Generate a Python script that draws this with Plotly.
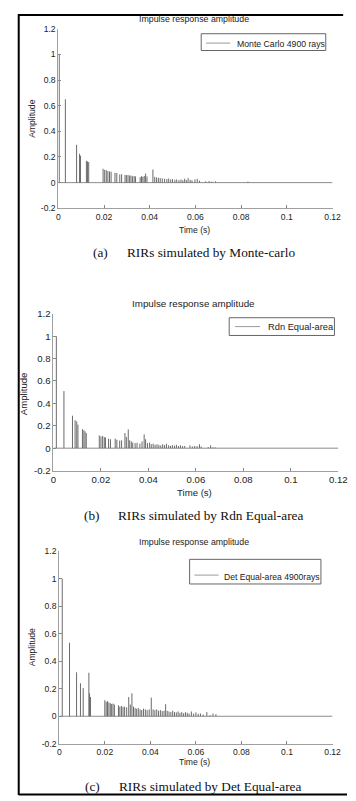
import plotly.graph_objects as go

# the page body has an 8px margin: the figure starts at page (8, 8)
OFF = 8
W, H = 356, 801
FW, FH = W - OFF, H - OFF

# ---------------- data ----------------
# (a) Monte Carlo 4900 rays
t_a = [0.0004, 0.0031, 0.0080, 0.0093, 0.0097, 0.0123, 0.0128, 0.0133,
       0.0196, 0.0203, 0.0210, 0.0217, 0.0224, 0.0231, 0.0248, 0.0256,
       0.0269, 0.0277, 0.0292, 0.0298, 0.0305, 0.0312, 0.0318, 0.0325,
       0.0332, 0.0338, 0.0358, 0.0364, 0.0370, 0.0376, 0.0382, 0.0388,
       0.0414, 0.0422, 0.0430, 0.0438, 0.0446, 0.0455, 0.0465, 0.0475,
       0.0483, 0.0492, 0.0500, 0.0510, 0.0518, 0.0528, 0.0537, 0.0545,
       0.0553, 0.0560, 0.0568, 0.0577, 0.0585, 0.0598, 0.0608, 0.0618,
       0.0645, 0.0660, 0.0672, 0.0688, 0.0830]
amp_a = [1.00, 0.65, 0.295, 0.225, 0.21, 0.17, 0.165, 0.16,
         0.108, 0.10, 0.097, 0.09, 0.087, 0.085, 0.077, 0.075,
         0.064, 0.065, 0.06, 0.058, 0.06, 0.055, 0.056, 0.05,
         0.052, 0.048, 0.042, 0.05, 0.045, 0.052, 0.07, 0.048,
         0.102, 0.045, 0.04, 0.038, 0.035, 0.033, 0.03, 0.028,
         0.032, 0.025, 0.027, 0.022, 0.025, 0.02, 0.024, 0.018,
         0.03, 0.02, 0.035, 0.022, 0.018, 0.025, 0.03, 0.015,
         0.01, 0.012, 0.008, 0.01, 0.008]

# (b) Rdn Equal-area
t_b = [0.0012, 0.0044, 0.0080, 0.0091, 0.0098, 0.0103, 0.0122, 0.0128,
       0.0133, 0.0138, 0.0193, 0.0200, 0.0207, 0.0214, 0.0219, 0.0232,
       0.0240, 0.0260, 0.0267, 0.0279, 0.0287, 0.0301, 0.0307, 0.0315,
       0.0321, 0.0328, 0.0334, 0.0344, 0.0352, 0.0364, 0.0373, 0.0382,
       0.0388, 0.0396, 0.0405, 0.0412, 0.0420, 0.0428, 0.0436, 0.0444,
       0.0452, 0.0460, 0.0468, 0.0476, 0.0485, 0.0493, 0.0501, 0.0510,
       0.0518, 0.0527, 0.0535, 0.0544, 0.0553, 0.0575, 0.0585, 0.0595,
       0.0605, 0.0615, 0.0622, 0.0652, 0.0662, 0.0672, 0.0682]
amp_b = [1.00, 0.51, 0.29, 0.25, 0.24, 0.21, 0.17, 0.16,
         0.15, 0.135, 0.114, 0.105, 0.11, 0.10, 0.095, 0.085,
         0.08, 0.085, 0.075, 0.068, 0.07, 0.135, 0.10, 0.167,
         0.07, 0.06, 0.05, 0.045, 0.048, 0.04, 0.06, 0.123,
         0.08, 0.045, 0.05, 0.035, 0.04, 0.03, 0.035, 0.03,
         0.025, 0.035, 0.028, 0.04, 0.025, 0.02, 0.028, 0.022,
         0.03, 0.02, 0.025, 0.018, 0.02, 0.025, 0.015, 0.02,
         0.018, 0.035, 0.015, 0.01, 0.025, 0.008, 0.006]

# (c) Det Equal-area 4900rays
t_c = [0.0013, 0.0045, 0.0076, 0.0093, 0.0105, 0.0130, 0.0133, 0.0137,
       0.0200, 0.0206, 0.0212, 0.0218, 0.0224, 0.0230, 0.0236, 0.0242,
       0.0260, 0.0266, 0.0273, 0.0280, 0.0287, 0.0296, 0.0305, 0.0312,
       0.0319, 0.0326, 0.0333, 0.0340, 0.0347, 0.0355, 0.0362, 0.0370,
       0.0378, 0.0386, 0.0395, 0.0404, 0.0412, 0.0420, 0.0428, 0.0436,
       0.0444, 0.0452, 0.0460, 0.0467, 0.0474, 0.0482, 0.0490, 0.0498,
       0.0506, 0.0514, 0.0522, 0.0530, 0.0538, 0.0546, 0.0554, 0.0562,
       0.0570, 0.0580, 0.0590, 0.0600, 0.0610, 0.0620, 0.0632, 0.0648,
       0.0662, 0.0675, 0.0688]
amp_c = [1.00, 0.535, 0.32, 0.24, 0.205, 0.317, 0.167, 0.14,
         0.117, 0.105, 0.11, 0.10, 0.095, 0.09, 0.092, 0.085,
         0.08, 0.07, 0.075, 0.068, 0.07, 0.065, 0.14, 0.085,
         0.167, 0.07, 0.06, 0.055, 0.06, 0.05, 0.045, 0.055,
         0.05, 0.045, 0.05, 0.135, 0.05, 0.045, 0.05, 0.04,
         0.045, 0.038, 0.04, 0.088, 0.04, 0.035, 0.03, 0.04,
         0.03, 0.028, 0.035, 0.025, 0.03, 0.022, 0.03, 0.025,
         0.02, 0.035, 0.02, 0.028, 0.018, 0.02, 0.012, 0.03,
         0.008, 0.02, 0.015]

series_names = ["Monte Carlo 4900 rays", "Rdn Equal-area", "Det Equal-area 4900rays"]
panel_titles = ["Impulse response amplitude"] * 3
caption_tags = ["(a)", "(b)", "(c)"]
caption_texts = ["RIRs simulated by Monte-carlo", "RIRs simulated by Rdn Equal-area",
                 "RIRs simulated by Det Equal-area"]
x_tickvals = [0, 0.02, 0.04, 0.06, 0.08, 0.1, 0.12]
x_ticktext = ["0", "0.02", "0.04", "0.06", "0.08", "0.1", "0.12"]
y_tickvals = [-0.2, 0, 0.2, 0.4, 0.6, 0.8, 1.0, 1.2]
y_ticktext = ["-0.2", "0", "0.2", "0.4", "0.6", "0.8", "1", "1.2"]

# ---------------- layout geometry (page pixels) ----------------
panels = [
    dict(t=t_a, a=amp_a, x0=57, x1=341, ytop=23, ybot=205, fs=8.6,
         title_y=13, box=(205, 334, 28, 45), line=(210, 235, 37.5), text=(240, 38.5),
         legfs=8.7, xlab_y=227, ylab=(29, 114), cap_y=250, tag_x=91, cap_x=126),
    dict(t=t_b, a=amp_b, x0=52, x1=347, ytop=312, ybot=471, fs=9.6,
         title_y=302, box=(234, 343, 316, 334), line=(240, 266, 325), text=(272, 325.5),
         legfs=9.3, xlab_y=493, ylab=(21, 393), cap_y=517, tag_x=82, cap_x=117),
    dict(t=t_c, a=amp_c, x0=58, x1=341, ytop=553, ybot=748, fs=8.6,
         title_y=543, box=(193, 329, 561, 586), line=(198, 223, 577), text=(227, 579),
         legfs=8.6, xlab_y=767, ylab=(30, 650), cap_y=791.5, tag_x=83, cap_x=118),
]

SANS = "Liberation Sans, Arial, sans-serif"
SERIF = "Liberation Serif, Times New Roman, serif"


def px(x):
    return (x - OFF) / FW


def py(y):
    return 1 - (y - OFF) / FH


fig = go.Figure()
annotations = []
shapes = []
layout_axes = {}

for i, p in enumerate(panels):
    k = "" if i == 0 else str(i + 1)
    xa, ya = "x" + k, "y" + k
    # stems built from the data arrays
    xs, ys = [], []
    for t, a in zip(p["t"], p["a"]):
        xs += [t, t, None]
        ys += [0, a, None]
    fig.add_trace(go.Scatter(x=[0, x_tickvals[-1]], y=[0, 0], mode="lines",
                             line=dict(color="#8c8c8c", width=1), showlegend=False,
                             xaxis=xa, yaxis=ya, hoverinfo="skip"))
    fig.add_trace(go.Scatter(x=xs, y=ys, mode="lines", name=series_names[i],
                             line=dict(color="#6a6a6a", width=1), showlegend=False,
                             xaxis=xa, yaxis=ya))
    axcommon = dict(showline=True, linecolor="#a0a0a0", linewidth=1, ticks="inside",
                    ticklen=3, tickcolor="#888", tickwidth=1, showgrid=False,
                    zeroline=False, ticklabeloverflow="allow",
                    tickfont=dict(family=SANS, size=p["fs"], color="#222"))
    layout_axes["xaxis" + k] = dict(axcommon, domain=[px(p["x0"]), px(p["x1"])],
                                    range=[0, 0.12], anchor=ya, tickvals=x_tickvals,
                                    ticktext=x_ticktext)
    layout_axes["yaxis" + k] = dict(axcommon, domain=[py(p["ybot"]), py(p["ytop"])],
                                    range=[-0.2, 1.2], anchor=xa, tickvals=y_tickvals,
                                    ticktext=y_ticktext)
    # legend box (drawn to match the compact MATLAB legend)
    bx0, bx1, by0, by1 = p["box"]
    shapes.append(dict(type="rect", xref="paper", yref="paper", x0=px(bx0), x1=px(bx1),
                       y0=py(by1), y1=py(by0), line=dict(color="#666", width=1),
                       fillcolor="white", layer="above"))
    lx0, lx1, ly = p["line"]
    shapes.append(dict(type="line", xref="paper", yref="paper", x0=px(lx0), x1=px(lx1),
                       y0=py(ly), y1=py(ly), line=dict(color="#9a9a9a", width=1),
                       layer="above"))
    annotations += [
        dict(text=series_names[i], x=px(p["text"][0]), y=py(p["text"][1]), xref="paper",
             yref="paper", showarrow=False, xanchor="left", yanchor="middle",
             font=dict(family=SANS, size=p["legfs"], color="#222")),
        dict(text=panel_titles[i], x=px(197.5), y=py(p["title_y"]), xref="paper", yref="paper",
             showarrow=False, xanchor="center", yanchor="middle",
             font=dict(family=SANS, size=p["fs"] + 0.2, color="#222")),
        dict(text="Time (s)", x=px(198), y=py(p["xlab_y"]), xref="paper", yref="paper",
             showarrow=False, xanchor="center", yanchor="middle",
             font=dict(family=SANS, size=p["fs"], color="#222")),
        dict(text="Amplitude", x=px(p["ylab"][0]), y=py(p["ylab"][1]), xref="paper", yref="paper",
             showarrow=False, xanchor="center", yanchor="middle", textangle=-90,
             font=dict(family=SANS, size=p["fs"], color="#222")),
        dict(text=caption_tags[i], x=px(p["tag_x"]), y=py(p["cap_y"]), xref="paper", yref="paper",
             showarrow=False, xanchor="left", yanchor="middle",
             font=dict(family=SERIF, size=13.3, color="#111")),
        dict(text=caption_texts[i], x=px(p["cap_x"]), y=py(p["cap_y"]), xref="paper", yref="paper",
             showarrow=False, xanchor="left", yanchor="middle",
             font=dict(family=SERIF, size=13.3, color="#111")),
    ]

shapes += [
    dict(type="line", xref="paper", yref="paper", x0=px(16), x1=px(16), y0=py(8), y1=py(800),
         line=dict(color="black", width=2)),
    dict(type="line", xref="paper", yref="paper", x0=px(16), x1=px(352), y0=py(9), y1=py(9),
         line=dict(color="black", width=2)),
    dict(type="line", xref="paper", yref="paper", x0=px(16), x1=px(356), y0=py(799.5), y1=py(799.5),
         line=dict(color="black", width=2)),
]

fig.update_layout(width=FW, height=FH, margin=dict(l=0, r=0, t=0, b=0),
                  paper_bgcolor="white", plot_bgcolor="white", showlegend=False,
                  annotations=annotations, shapes=shapes, **layout_axes)

fig.write_html("out.html")
